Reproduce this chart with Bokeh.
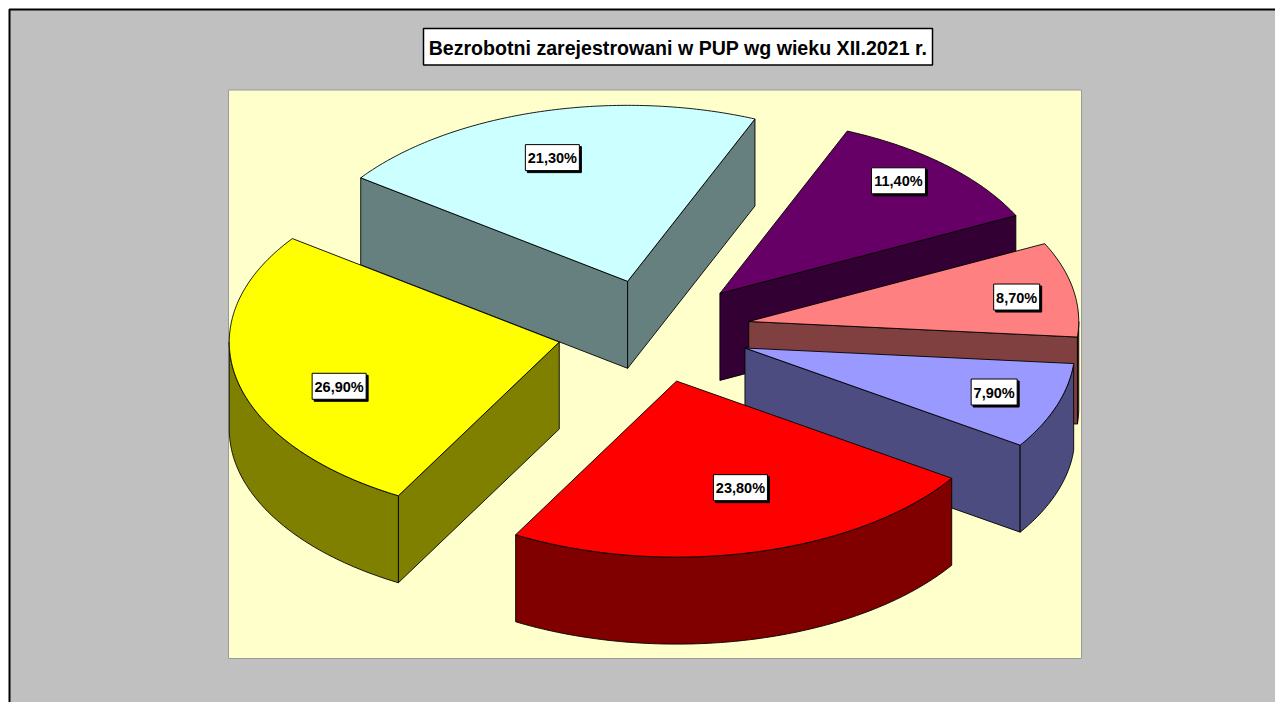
import math
from bokeh.plotting import figure
from bokeh.models import Range1d
from bokeh.core.properties import value
from bokeh.embed import file_html
from bokeh.resources import INLINE

# ---------------- data ----------------
slice_values = [11.4, 8.7, 7.9, 23.8, 26.9, 21.3]
slice_labels = ["11,40%", "8,70%", "7,90%", "23,80%", "26,90%", "21,30%"]
top_colors = ["#660066", "#FF8080", "#9999FF", "#FF0000", "#FFFF00", "#CCFFFF"]
side_colors = ["#330033", "#804040", "#4C4C80", "#800000", "#808000", "#668080"]
title_text = "Bezrobotni zarejestrowani w PUP wg wieku XII.2021 r."

# ---------------- layout ----------------
W, H = 1275, 702
CX, CY = 653.2, 330.5        # centre of top face (unexploded)
RX, RY = 330.0, 176.0        # ellipse radii
DEPTH = 87.0                 # pie thickness
EXPLODE = 0.293              # explosion as fraction of radius
START = 22.7                 # first slice start angle (deg, clockwise from 12 o'clock)
label_frac_x = [0.79, 0.826, 0.80, 0.82, 0.683, 0.846]
label_frac_y = [0.878, 0.756, 0.757, 0.623, 1.17, 0.73]

LABEL_FONT = value("Liberation Sans")
TITLE_FONT = value("Liberation Sans")

p = figure(width=W, height=H, output_backend="svg", toolbar_location=None,
           x_range=Range1d(0, W), y_range=Range1d(H, 0),
           min_border=0, outline_line_color=None,
           background_fill_color="#FFFFFF", border_fill_color="#FFFFFF")
p.axis.visible = False
p.grid.visible = False

# chart area (extends past the window on the right / bottom)
p.quad(left=[9], right=[W + 20], top=[9], bottom=[H + 20],
       fill_color="#C0C0C0", line_color="#000000", line_width=2)

# plot area
p.quad(left=[228], right=[1081], top=[89.5], bottom=[658],
       fill_color="#FFFFCC", line_color="#9A9A9A", line_width=1)

# title box
p.quad(left=[423], right=[932], top=[28], bottom=[64.5],
       fill_color="#FFFFFF", line_color="#000000", line_width=1.5)
p.text(x=[677.5], y=[47], text=[title_text], text_font=TITLE_FONT,
       text_font_style="bold", text_font_size="19.6px", text_color="#000000",
       text_align="center", text_baseline="middle")


def ept(ax, ay, th, dy=0.0):
    r = math.radians(th)
    return ax + RX * math.sin(r), ay - RY * math.cos(r) + dy


def arc(ax, ay, a1, a2, dy=0.0):
    n = max(6, int(abs(a2 - a1) * 1.5))
    return [ept(ax, ay, a1 + (a2 - a1) * k / n, dy) for k in range(n + 1)]


total = sum(slice_values)
slices = []
cum = 0.0
for i, v in enumerate(slice_values):
    a1 = START + cum / total * 360.0
    a2 = START + (cum + v) / total * 360.0
    cum += v
    mid = (a1 + a2) / 2.0
    ax = CX + EXPLODE * RX * math.sin(math.radians(mid))
    ay = CY - EXPLODE * RY * math.cos(math.radians(mid))
    slices.append((i, a1, a2, mid, ax, ay))

# painter's order: back (top of screen) first
order = sorted(slices, key=lambda s: -math.cos(math.radians(s[3])))

xs, ys, fills = [], [], []


def add_poly(pts, col):
    xs.append([q[0] for q in pts])
    ys.append([q[1] for q in pts])
    fills.append(col)


for (i, a1, a2, mid, ax, ay) in order:
    side = side_colors[i]
    if math.sin(math.radians(a1)) < 0:
        ex, ey = ept(ax, ay, a1)
        add_poly([(ax, ay), (ex, ey), (ex, ey + DEPTH), (ax, ay + DEPTH)], side)
    if math.sin(math.radians(a2)) > 0:
        ex, ey = ept(ax, ay, a2)
        add_poly([(ax, ay), (ex, ey), (ex, ey + DEPTH), (ax, ay + DEPTH)], side)
    for lo_v, hi_v in ((90.0, 270.0), (450.0, 630.0)):
        lo, hi = max(a1, lo_v), min(a2, hi_v)
        if hi > lo:
            top_arc = arc(ax, ay, lo, hi)
            bot_arc = arc(ax, ay, hi, lo, DEPTH)
            add_poly(top_arc + bot_arc, side)
    add_poly([(ax, ay)] + arc(ax, ay, a1, a2), top_colors[i])

p.patches(xs, ys, fill_color=fills, line_color="#000000", line_width=0.9)

# data labels
lx, ly, lw = [], [], []
for (i, a1, a2, mid, ax, ay) in slices:
    r = math.radians(mid)
    lx.append(ax + label_frac_x[i] * RX * math.sin(r))
    ly.append(ay - label_frac_y[i] * RY * math.cos(r))
    lw.append(8 * len(slice_labels[i]) + 6)

p.rect(x=[v + 2 for v in lx], y=[v + 2 for v in ly], width=lw, height=26,
       width_units="screen", height_units="screen",
       fill_color="#000000", line_color="#000000")
p.rect(x=lx, y=ly, width=lw, height=26, width_units="screen", height_units="screen",
       fill_color="#FFFFFF", line_color="#000000", line_width=1)
p.text(x=lx, y=[v + 0.5 for v in ly], text=slice_labels, text_font=LABEL_FONT,
       text_font_style="bold", text_font_size="14.5px", text_color="#000000",
       text_align="center", text_baseline="middle")

open("out.html", "w").write(file_html(p, INLINE))
